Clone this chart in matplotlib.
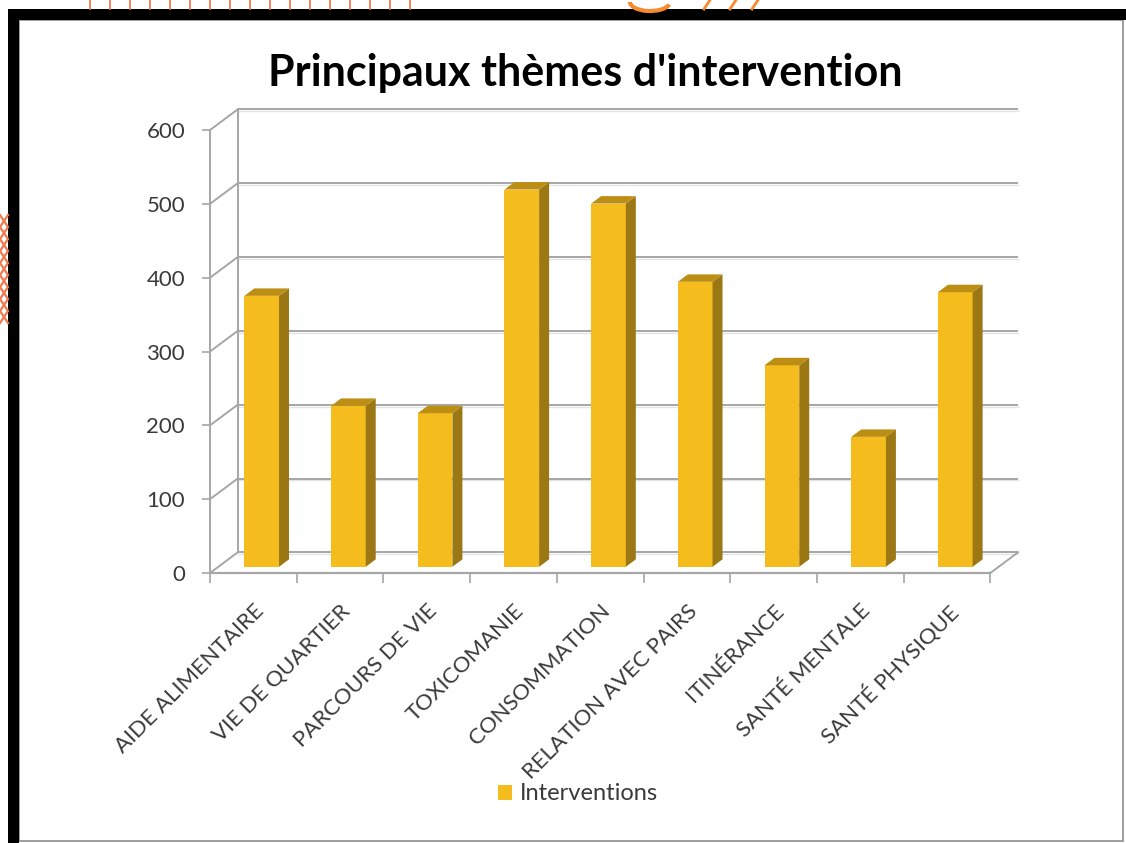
import numpy as np
import matplotlib
matplotlib.use("Agg")
import matplotlib.pyplot as plt
from matplotlib.patches import Polygon, Rectangle, Patch, Arc
from matplotlib.lines import Line2D

plt.rcParams["font.family"] = ["Lato", "DejaVu Sans"]

# data
categories = ["AIDE ALIMENTAIRE", "VIE DE QUARTIER", "PARCOURS DE VIE", "TOXICOMANIE",
              "CONSOMMATION", "RELATION AVEC PAIRS", "ITINÉRANCE", "SANTÉ MENTALE",
              "SANTÉ PHYSIQUE"]
interventions = [367, 218, 208, 511, 492, 386, 273, 176, 372]
y_ticks = [0, 100, 200, 300, 400, 500, 600]
title = "Principaux thèmes d'intervention"
series_name = "Interventions"

# colours
FRONT = "#F5BC1E"
TOP = "#BD8E14"
SIDE = "#9C7814"
GRID = "#A6A6A6"
TEXT = "#3A3A3A"

W, H = 1126, 843
fig = plt.figure(figsize=(W / 100, H / 100), dpi=100)
fig.patch.set_facecolor("white")


def fx(px):
    return px / W


def fy(py):
    return 1 - py / H


# --- surrounding frame / page decorations ---
orange = "#F07A50"
for x in range(90, 421, 20):
    fig.add_artist(Line2D([fx(x), fx(x)], [fy(0), fy(9)], color=orange, lw=1.3))
fig.add_artist(Arc((fx(650), fy(2)), fx(40), 18 / H, theta1=180, theta2=350,
                   color="#F58A30", lw=3))
for x0 in (708, 734, 756):
    fig.add_artist(Line2D([fx(x0 - 4), fx(x0 + 2)], [fy(9), fy(0)], color="#F58A30", lw=2))
zz_y = np.arange(215, 335, 12)
zz_x = np.where(np.arange(len(zz_y)) % 2 == 0, 0, 8)
fig.add_artist(Line2D(fx(zz_x), fy(zz_y), color=orange, lw=1.6))
fig.add_artist(Line2D(fx(8 - zz_x), fy(zz_y), color=orange, lw=1.6))

fig.add_artist(Rectangle((fx(19), fy(841)), fx(1104), (821) / H, facecolor="white",
                         edgecolor="#8C8C8C", lw=1.2, zorder=-5))
fig.add_artist(Rectangle((fx(8), fy(20)), fx(1118), 11 / H, facecolor="black",
                         edgecolor="none", zorder=-4))
fig.add_artist(Rectangle((fx(8), fy(843)), fx(11), 834 / H, facecolor="black",
                         edgecolor="none", zorder=-4))

# --- plot area: 2D axes with an oblique depth offset ---
ax = fig.add_axes([fx(210), fy(573), fx(815), 472.5 / H])
ax.set_xlim(-0.5, 8.9)
ax.set_ylim(0, 640)
ax.patch.set_alpha(0)

DX, DY = 0.32, 28          # depth offset (category units, value units)
n = len(categories)
x_left, x_right = -0.5, n - 0.5

for v in y_ticks:
    # side wall and back wall gridlines
    ax.plot([x_left, x_left + DX], [v, v + DY], color=GRID, lw=1.4, zorder=1,
            solid_capstyle="butt")
    ax.plot([x_left + DX, x_right + DX], [v + DY, v + DY], color=GRID, lw=1.4,
            zorder=1, solid_capstyle="butt")
    ax.plot([x_left + DX, x_right + DX], [v + DY - 2.5, v + DY - 2.5], color="#E4E4E4",
            lw=1.0, zorder=0.9)
ax.plot([x_left + DX] * 2, [DY, y_ticks[-1] + DY], color=GRID, lw=1.4, zorder=1)
ax.plot([x_right, x_right + DX], [0, DY], color=GRID, lw=1.4, zorder=1, clip_on=False)
ax.plot([x_left, x_right], [0, 0], color=GRID, lw=1.6, zorder=1, clip_on=False)

# bars
t0, t1 = 0.3, 0.66
bw = 0.40
xs = np.arange(n)
base = t0 * DY
ax.bar(xs + t0 * DX, interventions, width=bw, bottom=base, color=FRONT,
       edgecolor="none", zorder=3)
ddx, ddy = (t1 - t0) * DX, (t1 - t0) * DY
for x, v in zip(xs, interventions):
    xl = x + t0 * DX - bw / 2
    xr = x + t0 * DX + bw / 2
    top = v + base
    ax.add_patch(Polygon([(xr, base), (xr, top), (xr + ddx, top + ddy), (xr + ddx, base + ddy)],
                         closed=True, facecolor=SIDE, edgecolor="none", zorder=3))
    ax.add_patch(Polygon([(xl, top), (xr, top), (xr + ddx, top + ddy), (xl + ddx, top + ddy)],
                         closed=True, facecolor=TOP, edgecolor="none", zorder=3))

# axes / ticks
for s in ["top", "right", "bottom"]:
    ax.spines[s].set_visible(False)
ax.spines["left"].set_color(GRID)
ax.spines["left"].set_linewidth(1.4)
ax.spines["left"].set_bounds(0, y_ticks[-1])

ax.set_yticks(y_ticks)
ax.set_yticklabels([str(v) for v in y_ticks])
ax.tick_params(axis="y", length=6, width=1.2, color=GRID, pad=12, labelsize=16,
               labelcolor=TEXT)

ax.set_xticks(xs)
ax.set_xticklabels(categories, rotation=45, ha="right", va="top", rotation_mode="anchor")
ax.set_xticks(np.arange(n + 1) - 0.5, minor=True)
ax.tick_params(axis="x", which="major", length=0, pad=20, labelsize=16, labelcolor=TEXT)
ax.tick_params(axis="x", which="minor", length=7, width=1.2, color=GRID)

fig.text(fx(585), fy(73), title, ha="center", va="center", fontsize=31,
         fontweight="bold", color="black")

fig.legend(handles=[Patch(facecolor=FRONT, edgecolor="none", label=series_name)],
           loc="center", bbox_to_anchor=(fx(578), fy(794)), frameon=False,
           fontsize=17, handlelength=0.6, handleheight=0.6, handletextpad=0.35,
           labelcolor=TEXT)

fig.savefig("out.png", dpi=100)
